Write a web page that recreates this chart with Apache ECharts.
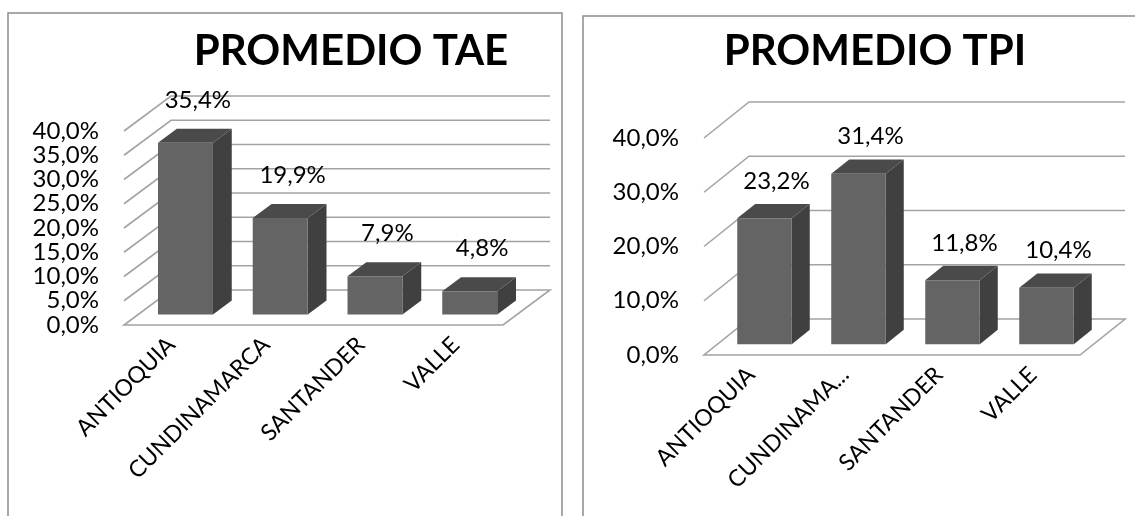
<!DOCTYPE html>
<html>
<head>
<meta charset="utf-8">
<script src="https://cdn.jsdelivr.net/npm/echarts@6/dist/echarts.min.js"></script>
<style>
  html, body { margin: 0; padding: 0; background: #ffffff; }
  #chart { width: 1135px; height: 516px; }
</style>
</head>
<body>
<div id="chart"></div>
<script>
// Departments and averages (percent)
const categories = ['ANTIOQUIA', 'CUNDINAMARCA', 'SANTANDER', 'VALLE'];
const taeValues = [35.4, 19.9, 7.9, 4.8];
const tpiValues = [23.2, 31.4, 11.8, 10.4];
const taeTicks = [0, 5, 10, 15, 20, 25, 30, 35, 40];
const tpiTicks = [0, 10, 20, 30, 40];
const titles = ['PROMEDIO TAE', 'PROMEDIO TPI'];

const FONT = 'Lato, "Open Sans", sans-serif';
const pct = v => v.toFixed(1).replace('.', ',') + '%';

// perspective offset from the front plane to the back wall, per panel
const depth = [{ dx: 47, dy: -35 }, { dx: 45, dy: -36 }];
const labelLift = [29, 23];
const BAR_FRONT = 0.3, BAR_BACK = 0.7, BAR_WIDTH = 0.58;
const GRID_COLOR = '#a3a3a3';

// side wall diagonals, back wall lines and the floor outline
function wallRenderer(panel) {
  return function (params, api) {
    const d = depth[panel];
    const cs = params.coordSys;
    const v = api.value(1);
    const y = api.coord([0, v])[1];
    const x0 = cs.x, x1 = cs.x + cs.width;
    const lineStyle = { stroke: GRID_COLOR, lineWidth: 1.6, fill: null };
    const children = [];
    if (v === 0) {
      children.push({
        type: 'polygon',
        shape: { points: [[x0, y], [x1, y], [x1 + d.dx, y + d.dy], [x0 + d.dx, y + d.dy]] },
        style: lineStyle
      });
    } else {
      children.push({
        type: 'polyline',
        shape: { points: [[x0, y], [x0 + d.dx, y + d.dy], [x1 + d.dx, y + d.dy]] },
        style: lineStyle
      });
    }
    return { type: 'group', children: children };
  };
}

// 3D-looking column: front face, right side and top, plus the value label
function barRenderer(panel) {
  return function (params, api) {
    const d = depth[panel];
    const i = api.value(0), v = api.value(1);
    const top = api.coord([i, v]);
    const base = api.coord([i, 0]);
    const band = api.size([1, 0])[0];
    const w = band * BAR_WIDTH;
    const fx = d.dx * BAR_FRONT, fy = d.dy * BAR_FRONT;
    const bx = d.dx * (BAR_BACK - BAR_FRONT), by = d.dy * (BAR_BACK - BAR_FRONT);
    const xl = top[0] - w / 2 + fx, xr = top[0] + w / 2 + fx;
    const yt = top[1] + fy, yb = base[1] + fy;
    return {
      type: 'group',
      children: [
        { type: 'polygon', shape: { points: [[xr, yb], [xr + bx, yb + by], [xr + bx, yt + by], [xr, yt]] },
          style: { fill: '#404040' } },
        { type: 'polygon', shape: { points: [[xl, yt], [xr, yt], [xr + bx, yt + by], [xl + bx, yt + by]] },
          style: { fill: '#4a4a4a' } },
        { type: 'rect', shape: { x: xl, y: yt, width: w, height: yb - yt },
          style: { fill: '#646464' } },
        { type: 'text',
          style: { text: pct(v), x: top[0] + fx + bx / 2 + 3, y: yt + by - labelLift[panel],
                   align: 'center', verticalAlign: 'middle',
                   fontSize: 24, fontFamily: FONT, fill: '#000000' } }
      ]
    };
  };
}

const gridBoxes = [
  { left: 124, top: 131, width: 379, height: 194 },
  { left: 704, top: 138, width: 376, height: 217 }
];
const titleCenters = [351, 875];
const tickSets = [taeTicks, tpiTicks];
const valueSets = [taeValues, tpiValues];

const option = {
  animation: false,
  backgroundColor: '#ffffff',
  title: titles.map((t, k) => ({
    text: t,
    left: titleCenters[k],
    top: 30,
    textAlign: 'center',
    padding: 0,
    textStyle: { fontSize: 42, fontWeight: 'bold', fontFamily: FONT, color: '#000000' }
  })),
  graphic: [
    { type: 'rect', shape: { x: 8, y: 13, width: 554, height: 540 },
      style: { fill: null, stroke: '#8c8c8c', lineWidth: 1.5 }, silent: true, z: -10 },
    { type: 'rect', shape: { x: 583, y: 16, width: 560, height: 540 },
      style: { fill: null, stroke: '#8c8c8c', lineWidth: 1.5 }, silent: true, z: -10 }
  ],
  grid: gridBoxes,
  xAxis: [0, 1].map(k => ({
    type: 'category',
    gridIndex: k,
    data: categories,
    axisLine: { show: false },
    axisTick: { show: false },
    splitLine: { show: false },
    axisLabel: {
      rotate: 45,
      margin: 16,
      interval: 0,
      fontSize: 23,
      fontFamily: FONT,
      color: '#000000',
      formatter: k === 1 ? (s => (s.length > 10 ? s.slice(0, 9) + '...' : s)) : (s => s)
    }
  })),
  yAxis: [0, 1].map(k => ({
    type: 'value',
    gridIndex: k,
    min: 0,
    max: 40,
    interval: k === 0 ? 5 : 10,
    axisLine: { show: false },
    axisTick: { show: false },
    splitLine: { show: false },
    axisLabel: { margin: 25, fontSize: 24, fontFamily: FONT, color: '#000000', formatter: pct }
  })),
  series: [0, 1].flatMap(k => [
    {
      type: 'custom',
      name: 'walls' + k,
      xAxisIndex: k,
      yAxisIndex: k,
      renderItem: wallRenderer(k),
      encode: { x: 0, y: 1 },
      data: tickSets[k].map(t => [0, t]),
      silent: true,
      z: 1
    },
    {
      type: 'custom',
      name: titles[k],
      xAxisIndex: k,
      yAxisIndex: k,
      renderItem: barRenderer(k),
      encode: { x: 0, y: 1 },
      data: valueSets[k].map((v, i) => [i, v]),
      z: 2
    }
  ])
};

const chart = echarts.init(document.getElementById('chart'), null, { renderer: 'canvas' });
chart.setOption(option);
</script>
</body>
</html>
